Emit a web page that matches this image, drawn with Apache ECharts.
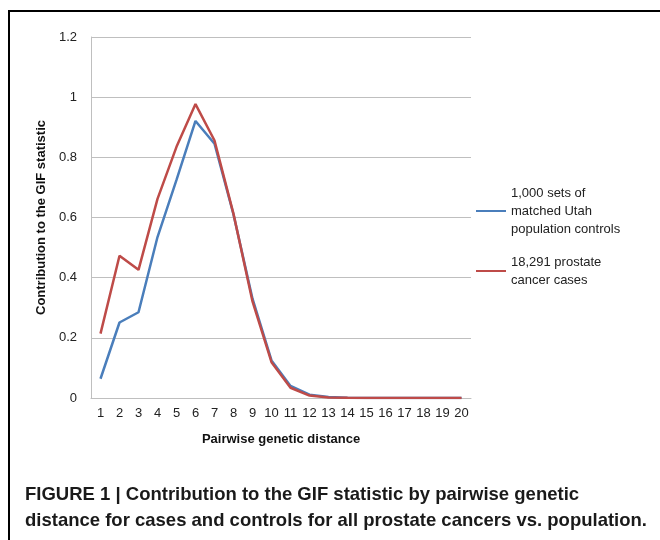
<!DOCTYPE html>
<html>
<head>
<meta charset="utf-8">
<script src="https://cdn.jsdelivr.net/npm/echarts@6/dist/echarts.min.js"></script>
<style>
html,body{margin:0;padding:0;background:#fff;}
#chart{width:660px;height:540px;}
</style>
</head>
<body>
<div id="chart"></div>
<script>
var categories = ['1','2','3','4','5','6','7','8','9','10','11','12','13','14','15','16','17','18','19','20'];
var controlsName = '1,000 sets of\nmatched Utah\npopulation controls';
var casesName = '18,291 prostate\ncancer cases';
var controls = [0.064, 0.251, 0.285, 0.535, 0.725, 0.921, 0.845, 0.61, 0.33, 0.125, 0.04, 0.011, 0.003, 0.001, 0, 0, 0, 0, 0, 0];
var cases = [0.214, 0.473, 0.426, 0.662, 0.835, 0.977, 0.856, 0.612, 0.321, 0.119, 0.034, 0.008, 0.002, 0.0005, 0, 0, 0, 0, 0, 0];
var yTicks = {min: 0, max: 1.2, interval: 0.2};
var xTitle = 'Pairwise genetic distance';
var yTitle = 'Contribution to the GIF statistic';
var caption = 'FIGURE 1 | Contribution to the GIF statistic by pairwise genetic\ndistance for cases and controls for all prostate cancers vs. population.';

var chart = echarts.init(document.getElementById('chart'), null, {renderer: 'canvas'});
var font = 'Liberation Sans, Arial, sans-serif';
chart.setOption({
  animation: false,
  backgroundColor: '#fff',
  textStyle: {fontFamily: font},
  title: {
    text: caption,
    left: 25, top: 482, padding: 0,
    textStyle: {fontFamily: '"Liberation Sans", Arial, sans-serif', fontSize: 18.5, fontWeight: 'bold', color: '#1a1a1a', lineHeight: 26}
  },
  graphic: [{
    type: 'rect', silent: true, z: 100,
    shape: {x: 9, y: 11, width: 670, height: 560},
    style: {fill: 'none', stroke: '#000', lineWidth: 2}
  }],
  legend: [{
    orient: 'vertical', left: 476, top: 166, padding: 0,
    itemWidth: 30, itemHeight: 14, itemGap: 0,
    icon: 'path://M0,6L30,6L30,8L0,8Z',
    data: [{name: controlsName}],
    textStyle: {fontFamily: font, fontSize: 13, color: '#222', lineHeight: 18, padding: [36, 0, 0, 0]}
  }, {
    orient: 'vertical', left: 476, top: 244, padding: 0,
    itemWidth: 30, itemHeight: 14, itemGap: 0,
    icon: 'path://M0,6L30,6L30,8L0,8Z',
    data: [{name: casesName}],
    textStyle: {fontFamily: font, fontSize: 13, color: '#222', lineHeight: 18, padding: [18, 0, 0, 0]}
  }],
  grid: {left: 91, right: 189, top: 37, bottom: 142, containLabel: false},
  xAxis: {
    type: 'category', data: categories, boundaryGap: true,
    name: xTitle, nameLocation: 'middle', nameGap: 35,
    nameTextStyle: {fontFamily: font, fontSize: 13, fontWeight: 'bold', color: '#111'},
    axisLine: {lineStyle: {color: '#bfbfbf', width: 1}},
    axisTick: {show: false},
    axisLabel: {fontFamily: font, fontSize: 13, color: '#222', margin: 9, interval: 0}
  },
  yAxis: {
    type: 'value', min: yTicks.min, max: yTicks.max, interval: yTicks.interval,
    name: yTitle, nameLocation: 'middle', nameGap: 42,
    nameTextStyle: {fontFamily: font, fontSize: 13, fontWeight: 'bold', color: '#111'},
    axisLine: {show: true, lineStyle: {color: '#bfbfbf', width: 1}},
    axisTick: {show: false},
    splitLine: {lineStyle: {color: '#bfbfbf', width: 1}},
    axisLabel: {fontFamily: font, fontSize: 13, color: '#222', margin: 14}
  },
  series: [{
    name: controlsName, type: 'line', data: controls, showSymbol: false, symbol: 'none',
    color: '#4a7ebb', lineStyle: {color: '#4a7ebb', width: 2.5}
  }, {
    name: casesName, type: 'line', data: cases, showSymbol: false, symbol: 'none',
    color: '#be4b48', lineStyle: {color: '#be4b48', width: 2.5}
  }]
});
</script>
</body>
</html>
